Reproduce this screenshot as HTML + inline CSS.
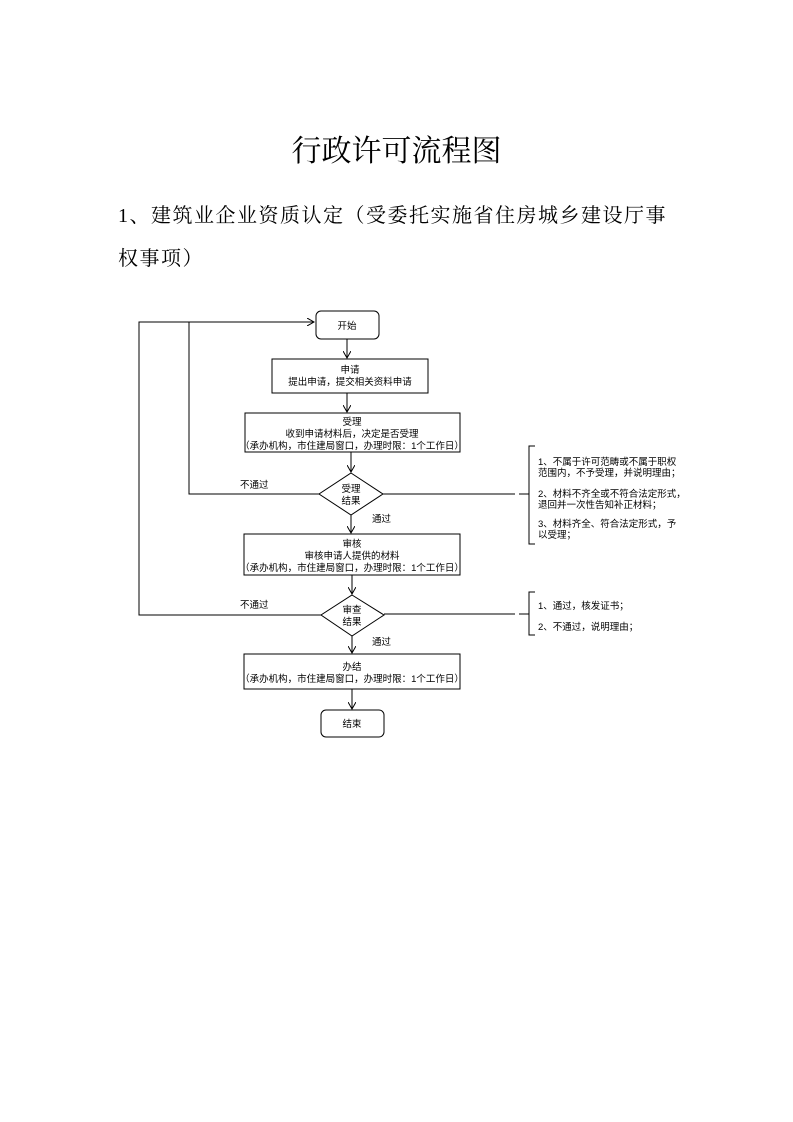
<!DOCTYPE html>
<html><head><meta charset="utf-8"><style>
body{margin:0;background:#fff;}
.page{position:relative;width:793px;height:1122px;overflow:hidden;font-family:"Liberation Serif","Noto Serif CJK SC",serif;}
.t{position:absolute;white-space:nowrap;color:#000;}
svg text{font-family:"Liberation Sans","Noto Sans CJK SC",sans-serif;font-size:9.5px;fill:#000;}
</style></head><body><div class="page">
<div class="t" style="left:0;width:793px;text-align:center;top:126px;font-size:30px;">行政许可流程图</div>
<div class="t" style="left:118px;top:199px;font-size:20px;letter-spacing:1.5px;">1、建筑业企业资质认定（受委托实施省住房城乡建设厅事</div>
<div class="t" style="left:118px;top:242px;font-size:20px;letter-spacing:1.5px;">权事项）</div>
<svg width="793" height="1122" style="position:absolute;left:0;top:0" xmlns="http://www.w3.org/2000/svg">
<defs><marker id="a" markerWidth="8" markerHeight="8" refX="7" refY="4" orient="auto" markerUnits="userSpaceOnUse"><path d="M0,0 L7,4 L0,8" fill="none" stroke="#000" stroke-width="1"/></marker></defs>
<g fill="none" stroke="#000" stroke-width="1">
<rect x="316" y="311" width="63" height="28" rx="5"/>
<rect x="272" y="359" width="156" height="34"/>
<rect x="245" y="413" width="215" height="39"/>
<path d="M351,473 L383,494 L351,515 L319,494 Z"/>
<rect x="244" y="534" width="216" height="41"/>
<path d="M352,595 L384,615 L352,636 L321,615 Z"/>
<rect x="244" y="654" width="216" height="35"/>
<rect x="321" y="710" width="63" height="27" rx="5"/>
<line x1="347" y1="339" x2="347" y2="358" marker-end="url(#a)"/>
<line x1="347" y1="393" x2="347" y2="412" marker-end="url(#a)"/>
<line x1="351" y1="452" x2="351" y2="472" marker-end="url(#a)"/>
<line x1="351" y1="515" x2="351" y2="533" marker-end="url(#a)"/>
<line x1="352" y1="575" x2="352" y2="594" marker-end="url(#a)"/>
<line x1="352" y1="636" x2="352" y2="653" marker-end="url(#a)"/>
<line x1="352" y1="689" x2="352" y2="709" marker-end="url(#a)"/>
<polyline points="319,494 189,494 189,322"/>
<polyline points="321,615 139,615 139,322 314,322" marker-end="url(#a)"/>
<line x1="383" y1="494" x2="515" y2="494"/>
<line x1="519" y1="494" x2="529" y2="494"/>
<polyline points="535,446 529,446 529,544 535,544"/>
<line x1="384" y1="614" x2="515" y2="614"/>
<line x1="519" y1="614" x2="529" y2="614"/>
<polyline points="535,592 529,592 529,635 535,635"/>
</g>
<text x="347" y="329" text-anchor="middle">开始</text>
<text x="350" y="373" text-anchor="middle">申请</text>
<text x="350" y="385" text-anchor="middle">提出申请，提交相关资料申请</text>
<text x="352" y="425" text-anchor="middle">受理</text>
<text x="352" y="437" text-anchor="middle">收到申请材料后，决定是否受理</text>
<text x="352" y="449" text-anchor="middle">（承办机构，市住建局窗口，办理时限：1个工作日）</text>
<text x="351" y="492" text-anchor="middle">受理</text>
<text x="351" y="504" text-anchor="middle">结果</text>
<text x="352" y="547" text-anchor="middle">审核</text>
<text x="352" y="559" text-anchor="middle">审核申请人提供的材料</text>
<text x="352" y="571" text-anchor="middle">（承办机构，市住建局窗口，办理时限：1个工作日）</text>
<text x="352" y="613" text-anchor="middle">审查</text>
<text x="352" y="625" text-anchor="middle">结果</text>
<text x="352" y="670" text-anchor="middle">办结</text>
<text x="352" y="682" text-anchor="middle">（承办机构，市住建局窗口，办理时限：1个工作日）</text>
<text x="352" y="727" text-anchor="middle">结束</text>
<text x="240" y="488">不通过</text>
<text x="240" y="608">不通过</text>
<text x="372" y="522">通过</text>
<text x="372" y="645">通过</text>
<text x="538" y="465">1、不属于许可范畴或不属于职权</text>
<text x="538" y="476">范围内，不予受理，并说明理由；</text>
<text x="538" y="497">2、材料不齐全或不符合法定形式，</text>
<text x="538" y="508">退回并一次性告知补正材料；</text>
<text x="538" y="527">3、材料齐全、符合法定形式，予</text>
<text x="538" y="538">以受理；</text>
<text x="538" y="609">1、通过，核发证书；</text>
<text x="538" y="630">2、不通过，说明理由；</text>
</svg>
</div></body></html>
